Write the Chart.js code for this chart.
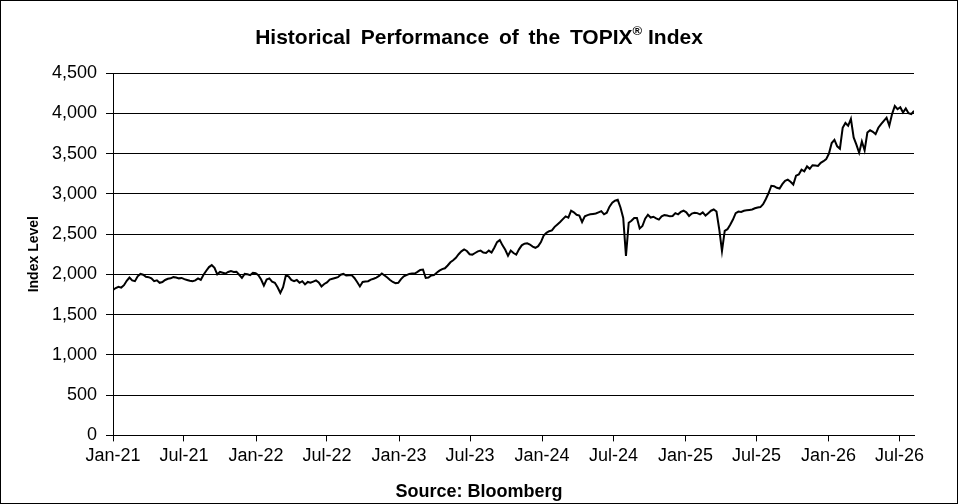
<!DOCTYPE html>
<html>
<head>
<meta charset="utf-8">
<script src="https://cdn.jsdelivr.net/npm/chart.js@4.4.1/dist/chart.umd.min.js"></script>
<style>
  html, body { margin: 0; padding: 0; background: #fff; }
  #wrap { position: relative; width: 958px; height: 504px; font-family: "Liberation Sans", Arial, sans-serif; }
  #myChart { position: absolute; left: 0; top: 0; }
  #frame { position: absolute; left: 0; top: 0; width: 958px; height: 504px; box-sizing: border-box; border: 1px solid #000; pointer-events: none; }
  #title { position: absolute; left: 0; width: 958px; top: 25px; text-align: center; font-weight: bold; font-size: 21px; color: #000; }
  #title .gap { word-spacing: 4px; }
  #title sup { font-size: 13px; line-height: 0; position: relative; top: -1px; }
  #source { position: absolute; left: 0; width: 958px; top: 481px; text-align: center; font-weight: bold; font-size: 18px; color: #000; }
</style>
</head>
<body>
<div id="wrap">
  <canvas id="myChart" width="958" height="504"></canvas>
  <div id="title"><span class="gap">Historical  Performance  of  the  TOPIX</span><sup>®</sup> Index</div>
  <div id="source">Source: Bloomberg</div>
  <div id="frame"></div>
</div>
<script>
// weekly closes, first week starting 1 Jan 2021
const firstWeek = '2021-01-01';
const weekLevels = [
  1805, 1830, 1845, 1835, 1865, 1920, 1960, 1925, 1915, 1975,
  2005, 1995, 1970, 1965, 1950, 1915, 1925, 1895, 1905, 1930,
  1945, 1950, 1965, 1960, 1950, 1955, 1940, 1930, 1920, 1915,
  1925, 1950, 1930, 1995, 2045, 2090, 2115, 2080, 2000, 2030,
  2020, 2010, 2030, 2040, 2030, 2033, 1995, 1955, 2005, 2000,
  1990, 2020, 2015, 1990, 1935, 1860, 1935, 1950, 1910, 1895,
  1840, 1770, 1840, 1985, 1975, 1930, 1915, 1930, 1895, 1915,
  1875, 1905, 1895, 1910, 1925, 1900, 1850, 1880, 1900, 1935,
  1945, 1955, 1965, 1995, 2005, 1985, 1990, 1990, 1955, 1905,
  1850, 1905, 1910, 1915, 1935, 1945, 1960, 1980, 2010, 1985,
  1960, 1930, 1905, 1890, 1895, 1940, 1975, 1990, 2005, 2010,
  2010, 2030, 2055, 2060, 1955, 1960, 1985, 1990, 2020, 2045,
  2065, 2075, 2110, 2150, 2175, 2205, 2250, 2285, 2310, 2290,
  2250, 2245, 2265, 2285, 2295, 2270, 2265, 2295, 2270, 2330,
  2400, 2425, 2360, 2305, 2230, 2295, 2265, 2245, 2310, 2360,
  2380, 2385, 2370, 2345, 2330, 2350, 2400, 2480, 2515, 2535,
  2545, 2590, 2620, 2650, 2685, 2720, 2705, 2790, 2770, 2740,
  2730, 2650, 2720, 2735, 2745, 2750, 2755, 2770, 2785, 2745,
  2765, 2840, 2890, 2915, 2925, 2830, 2700, 2230, 2640, 2665,
  2700, 2700, 2570, 2600, 2690, 2740, 2705, 2715, 2695, 2680,
  2720, 2735, 2730, 2720, 2725, 2760, 2745, 2775, 2790, 2770,
  2725, 2755, 2765, 2760, 2745, 2770, 2730, 2760, 2790, 2805,
  2780, 2560, 2290, 2540, 2560, 2615, 2680, 2760, 2780, 2775,
  2790, 2795, 2800, 2805, 2820, 2830, 2835, 2870, 2935, 3010,
  3100, 3095, 3075, 3065, 3120, 3160, 3175, 3150, 3115, 3225,
  3240, 3300, 3280, 3340, 3310, 3355, 3350, 3345, 3385, 3405,
  3430, 3500, 3630, 3670, 3590, 3560, 3820, 3880, 3845, 3930,
  3700, 3610, 3510, 3650, 3540, 3760, 3790, 3770, 3740, 3820,
  3865, 3905, 3945, 3845, 3990, 4090, 4050, 4075, 4010, 4060,
  4000, 3990, 4030
];
const tickDates = ['2021-01-01', '2021-07-01', '2022-01-01', '2022-07-01', '2023-01-01', '2023-07-01',
  '2024-01-01', '2024-07-01', '2025-01-01', '2025-07-01', '2026-01-01', '2026-07-01'];
const tickLabels = ['Jan-21', 'Jul-21', 'Jan-22', 'Jul-22', 'Jan-23', 'Jul-23',
  'Jan-24', 'Jul-24', 'Jan-25', 'Jul-25', 'Jan-26', 'Jul-26'];
const endDate = '2026-08-07';
const yTicks = [0, 500, 1000, 1500, 2000, 2500, 3000, 3500, 4000, 4500];

const DAY = 86400000;
const t0 = Date.parse(firstWeek);
const dayOf = (s) => Math.round((Date.parse(s) - t0) / DAY);
const tickDays = tickDates.map(dayOf);

const points = weekLevels.map((v, i) => ({ x: i * 7, y: v }));

const font = { family: '"Liberation Sans", Arial, sans-serif', size: 18 };

const config = {
  type: 'line',
  data: {
    datasets: [{
      data: points,
      borderColor: '#000',
      borderWidth: 2,
      pointRadius: 0,
      tension: 0,
      fill: false,
    }],
  },
  options: {
    animation: false,
    responsive: false,
    devicePixelRatio: 1,
    layout: { padding: { left: 20, right: 44, top: 73, bottom: 33 } },
    plugins: { legend: { display: false }, tooltip: { enabled: false } },
    scales: {
      x: {
        type: 'linear',
        min: 0,
        max: dayOf(endDate),
        afterBuildTicks: (scale) => { scale.ticks = tickDays.map(d => ({ value: d })); },
        ticks: {
          color: '#000',
          font: font,
          padding: 4,
          maxRotation: 0,
          autoSkip: false,
          callback: (value) => tickLabels[tickDays.indexOf(value)],
        },
        grid: { drawOnChartArea: false, drawTicks: true, tickLength: 6, color: '#000' },
        border: { color: '#000', width: 1 },
      },
      y: {
        min: 0,
        max: 4500,
        afterBuildTicks: (scale) => { scale.ticks = yTicks.map(v => ({ value: v })); },
        afterFit: (scale) => { scale.width = 93; },
        ticks: {
          color: '#000',
          font: font,
          padding: 9,
          callback: (value) => value.toLocaleString('en-US'),
        },
        grid: { color: '#000', lineWidth: 1, tickLength: 7 },
        border: { color: '#000', width: 1 },
        title: {
          display: true,
          text: 'Index Level',
          color: '#000',
          font: { family: '"Liberation Sans", Arial, sans-serif', size: 14, weight: 'bold' },
          padding: { top: 6, bottom: 0 },
        },
      },
    },
  },
};

var myChart = new Chart(document.getElementById('myChart'), config);
</script>
</body>
</html>
